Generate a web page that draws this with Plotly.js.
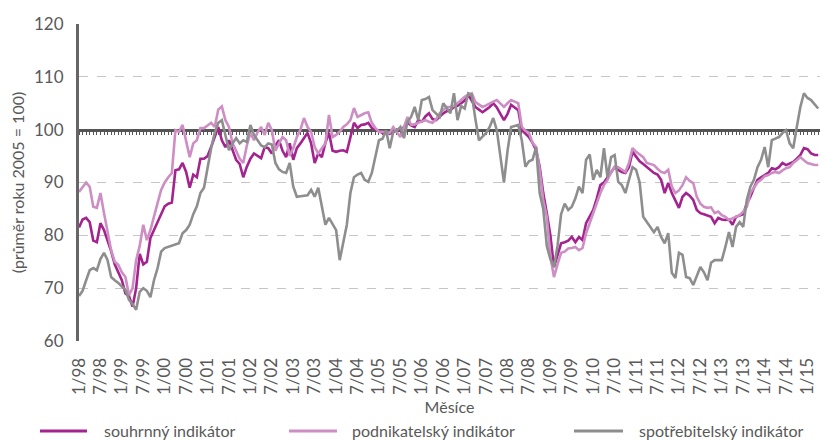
<!DOCTYPE html>
<html>
<head>
<meta charset="utf-8">
<script src="https://cdn.plot.ly/plotly-3.0.1.min.js"></script>
<style>html,body{margin:0;padding:0;background:#fff;}#chart{width:820px;height:441px;}</style>
</head>
<body>
<div id="chart"></div>
<script>
// Monthly index values, 1/1998 .. 4/2015
const seriesNames = ['souhrnný indikátor', 'podnikatelský indikátor', 'spotřebitelský indikátor'];

const souhrnny = [
  81.5, 83, 83.3, 82.5, 79, 78.7, 82.3, 81, 79, 77, 74.5, 73,
  71.5, 69, 68.5, 66.5, 70, 76.5, 74.5, 75, 79.5, 81, 82.5, 84,
  85.5, 86, 86.2, 92.3, 92.5, 93.7, 92, 89, 91.5, 91, 94.5, 94.5,
  95, 96.7, 98.6, 100.5, 98, 96.7, 98, 96, 94.3, 93.5, 91, 93,
  94.5, 95.5, 95, 94.6, 96.7, 96.5, 95.5, 97, 98, 96, 94.8, 97.4,
  94.3, 96.5, 97.4, 98.5, 99.4, 97.4, 93.7, 95.5, 94.8, 97.5, 99.4, 96,
  95.8, 96, 96.1, 95.8, 98.6, 101.3, 100.3, 100.9, 101, 101.3, 100.3, 100,
  99.6, 99.4, 99.6, 99.2, 99.5, 100, 99.9, 100.5, 101.3, 100.8, 100.5, 101.8,
  101.5, 102.5, 103.1, 102, 101.8, 102.5, 103.1, 103.5, 103.7, 104.3, 104.5, 105,
  105.5, 106.6, 105.5, 104.3, 103.8, 103.3, 103.8, 104.3, 105, 104.2, 103, 101.8,
  103, 104.7, 104.2, 103.7, 99.9, 99.3, 98.6, 97.5, 96.1, 93, 88, 84.2,
  80, 74, 76.5, 78.5, 78.7, 79, 79.7, 78.7, 79.7, 79.1, 82.3, 83.5,
  84.8, 87, 89.5, 90, 91, 92, 92.9, 92.4, 92, 91.8, 92.9, 95.8,
  94.8, 94, 93.5, 92.9, 92.3, 91.8, 91.5, 90.5, 88, 89.9, 88, 86.7,
  85.2, 87.3, 88, 87.5, 86.7, 84.8, 84.2, 84, 83.8, 83.5, 82.3, 83.3,
  83, 82.9, 83, 82, 83.5, 83.8, 84, 86, 87.3, 89, 90.5, 91,
  91.4, 91.8, 92.7, 92.5, 92.9, 93.7, 93.3, 93.6, 93.9, 94.5, 95.2, 96.5,
  96.3, 95.5, 95.2, 95.2
];

const podnikatelsky = [
  88.2, 89, 90, 89.2, 85.4, 85.2, 88, 84.2, 81, 77.2, 75, 74.4,
  73, 72.1, 68.7, 70, 75.3, 78, 82, 79.1, 81, 83.8, 86.1, 88.6,
  90, 91, 91.8, 99.9, 99.6, 100.9, 98, 94.8, 97.4, 98, 100.3, 100.3,
  100.8, 101.3, 100.5, 103.8, 104.4, 101.8, 100.5, 97.4, 96, 94.5, 93.7, 97,
  99.4, 98, 99.5, 100.5, 99, 101.3, 99.9, 96, 97.4, 98.6, 98, 95,
  96.5, 98.6, 100, 102.2, 100.5, 99.6, 96.7, 95.5, 96.5, 97.4, 102.8, 98.6,
  99, 99.6, 100.5, 101, 101.8, 104.1, 102.4, 102.8, 103.1, 103.3, 101.3, 100.3,
  99.6, 99.6, 99.5, 99.4, 100.5, 99.5, 98.6, 100.5, 102.4, 100.9, 101, 101.3,
  101.5, 101.8, 101.5, 101.3, 102, 103.1, 103.7, 104.3, 104.3, 104.5, 105, 105.6,
  106.2, 106.6, 106.9, 105.2, 104.8, 104.3, 104.6, 105, 105.3, 105.6, 105, 104.3,
  105, 105.6, 105.3, 105, 100.5, 99.8, 99.4, 97.5, 96.7, 92.4, 86.7, 83.5,
  76, 72.1, 74.5, 76.7, 76.9, 77.5, 77.6, 77.8, 77.2, 77.6, 80.4, 82.3,
  84.2, 86.5, 88, 89.5, 90.5, 92, 92.9, 92.9, 92.5, 92, 93.7, 96.5,
  95.8, 95.3, 94.8, 93.7, 93.5, 93.3, 92.6, 92, 91.8, 92.4, 89.2, 88,
  88.5, 89.5, 91, 90.3, 89.9, 87.3, 86, 85.4, 85.2, 85.3, 84.2, 84.5,
  83.8, 83.5, 82.9, 83.2, 83.5, 83.8, 84.5, 85.4, 88, 89, 90, 90.5,
  91.2, 91.4, 91.8, 92, 91.8, 92.3, 92.7, 92.9, 93.7, 94.2, 94.8, 94.2,
  93.7, 93.5, 93.3, 93.3
];

const spotrebitelsky = [
  68.5, 69.5, 71.5, 73.4, 73.8, 73.4, 75.5, 76.7, 75.3, 72.1, 71.5, 71,
  70.3, 69.7, 67.8, 67, 65.9, 69.3, 70, 69.5, 68.3, 71.5, 73.8, 76.9,
  77.6, 77.8, 78, 78.2, 78.5, 80.4, 81, 82, 84, 85.5, 88, 89,
  93, 96.5, 99.4, 101.3, 101.8, 99, 96.1, 97.4, 98.4, 97.4, 98, 97.7,
  100.9, 99, 98, 97, 96.7, 97.4, 97.2, 93.7, 92.5, 92, 91.8, 93.7,
  89.2, 87.3, 87.4, 87.5, 87.6, 88.6, 87.3, 89, 85.4, 82, 83.3, 82,
  81, 75.3, 78.5, 82, 88, 91, 91.5, 91.8, 90.5, 90.1, 91.8, 95,
  98, 98.3, 99.9, 96.5, 99.6, 99.8, 100.5, 98.4, 101.5, 102.4, 104.3, 101.8,
  105.6, 105.8, 106.2, 103.7, 103, 102.4, 105, 104, 103.1, 106.9, 101.8, 104.5,
  104, 106.9, 106.6, 102, 98, 98.7, 99.4, 100.5, 102.2, 99.9, 94.8, 90,
  96, 100.5, 100.7, 100.9, 98, 93, 94, 94.3, 96.7, 88, 85, 78,
  75.5, 74, 78, 84, 86, 84.8, 85.4, 87, 89.2, 88, 94.3, 95.3,
  90.5, 92.4, 91, 96.5, 91, 94.8, 95.2, 90.1, 89.5, 88, 90.5, 92.9,
  92.4, 90, 83.5, 82.5, 81.6, 80.6, 81.6, 79.7, 78.5, 80.4, 72.9, 71.9,
  76.7, 76.3, 72.1, 71.9, 70.6, 72.5, 74, 73, 71.5, 74.8, 75.3, 75.3,
  75.3, 77.8, 80.6, 77.8, 81.6, 82.5, 81.6, 86.7, 89.2, 90.5, 92.9, 94.3,
  96.7, 92.9, 98, 98.3, 98.6, 99.4, 99.9, 97.4, 96.5, 100.5, 104.3, 106.9,
  106, 105.6, 104.7, 104
];

const tickLabels = ['1/98','7/98','1/99','7/99','1/00','7/00','1/01','7/01','1/02','7/02',
  '1/03','7/03','1/04','7/04','1/05','7/05','1/06','7/06','1/07','7/07','1/08','7/08',
  '1/09','7/09','1/10','7/10','1/11','7/11','1/12','7/12','1/13','7/13','1/14','7/14','1/15'];

const baseline = 100;

// month index axis
const months = souhrnny.map((_, i) => i);
const tickPositions = tickLabels.map((_, i) => i * 6);

const colors = ['#a3238f', '#cd8ec4', '#8e8e8e'];
const allSeries = [souhrnny, podnikatelsky, spotrebitelsky];

const traces = allSeries.map((ys, k) => ({
  type: 'scatter', mode: 'lines',
  x: months, y: ys, name: seriesNames[k],
  line: {color: colors[k], width: 2.6},
  showlegend: false,
  hoverinfo: 'skip'
}));
// invisible carrier for the reference axis at 100
traces.unshift({type: 'scatter', mode: 'none', x: [0], y: [baseline], xaxis: 'x2', showlegend: false, hoverinfo: 'skip'});

const yMin = 60, yMax = 120;
const xMax = months.length - 0.5;

// legend drawn below the plot (figure pixels converted to paper fractions)
const W = 820, H = 441, mL = 79, mR = 0, mT = 24, mB = 100;
const pw = W - mL - mR, ph = H - mT - mB;
const px = v => (v - mL) / pw;
const py = v => (H - mB - v) / ph;
const legendSampleX = [[40, 87], [289, 337], [574, 623]];
const legendTextX = [102, 350, 637];
const legendY = 431;

const shapes = legendSampleX.map((s, k) => ({
  type: 'line', xref: 'paper', yref: 'paper',
  x0: px(s[0]), x1: px(s[1]), y0: py(legendY), y1: py(legendY),
  line: {color: colors[k], width: 3}
}));
const annotations = legendTextX.map((t, k) => ({
  xref: 'paper', yref: 'paper', x: px(t), y: py(legendY - 1),
  xanchor: 'left', yanchor: 'middle', showarrow: false,
  text: seriesNames[k], font: {size: 16, color: '#595959'}
}));

const layout = {
  width: W, height: H,
  margin: {l: mL, r: mR, t: mT, b: mB, autoexpand: false},
  paper_bgcolor: '#ffffff', plot_bgcolor: '#ffffff',
  font: {family: 'Lato, "Open Sans", sans-serif', color: '#595959', size: 16},
  showlegend: false,
  xaxis: {
    range: [0, xMax], tickvals: tickPositions, ticktext: tickLabels, tickangle: -90,
    tickfont: {size: 17, color: '#595959'},
    showgrid: false, zeroline: false, showline: false,
    ticks: 'outside', ticklen: 9, tickcolor: 'rgba(0,0,0,0)',
    title: {text: 'Měsíce', font: {size: 16, color: '#595959'}, standoff: 7},
    automargin: false
  },
  xaxis2: {
    overlaying: 'x', anchor: 'free', position: (baseline - yMin) / (yMax - yMin),
    range: [0, xMax], tick0: 0, dtick: 1,
    ticks: 'outside', ticklen: 3, tickwidth: 1, tickcolor: '#555555',
    showline: true, linewidth: 3, linecolor: '#555555',
    showticklabels: false, showgrid: false, zeroline: false, layer: 'below traces'
  },
  yaxis: {
    range: [yMin, yMax], dtick: 10, tick0: 60,
    tickfont: {size: 17, color: '#595959'},
    showgrid: true, gridcolor: '#c6c6c6', griddash: 'dash', gridwidth: 1,
    showline: true, linecolor: '#666666', linewidth: 3,
    ticks: 'outside', ticklen: 9, tickcolor: 'rgba(0,0,0,0)', zeroline: false,
    title: {text: '(průměr roku 2005 = 100)', font: {size: 16, color: '#595959'}, standoff: 6},
    automargin: false
  },
  shapes: shapes,
  annotations: annotations
};

Plotly.newPlot('chart', traces, layout, {displayModeBar: false, staticPlot: true});
</script>
</body>
</html>
